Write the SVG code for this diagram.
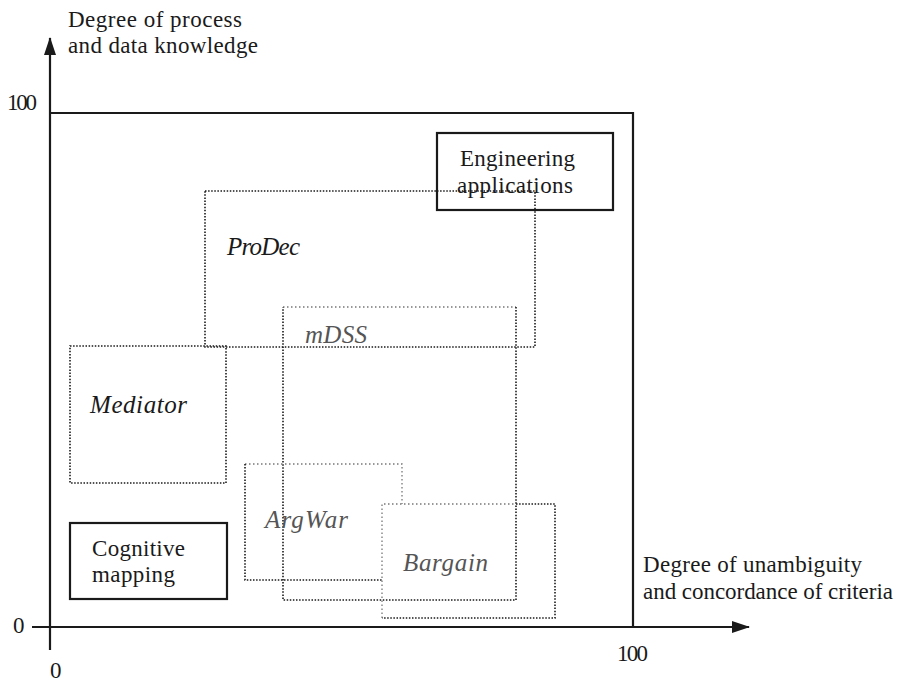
<svg xmlns="http://www.w3.org/2000/svg" width="913" height="683" viewBox="0 0 913 683" font-family="'Liberation Serif', 'DejaVu Serif', serif">
<style>
text{font-family:"Liberation Serif","DejaVu Serif",serif;fill:#1a1a1a;font-size:23px}
.it{font-style:italic;font-size:25px}
.faint{fill:#555}
.axis{stroke:#1a1a1a;stroke-width:2.2;fill:none}
.solid{stroke:#1a1a1a;stroke-width:2.2;fill:none}
.dot{stroke:#1a1a1a;stroke-width:1.6;fill:none;stroke-dasharray:1.5 1.6}
.dotl{stroke:#777;stroke-width:1.3;fill:none;stroke-dasharray:1.5 2.5}
</style>
<defs>
<marker id="arr" viewBox="0 0 18 12" refX="17" refY="6" markerWidth="18" markerHeight="12" markerUnits="userSpaceOnUse" orient="auto">
<path d="M0,0 L18,6 L0,12 Z" fill="#1a1a1a"/>
</marker>
</defs>
<rect width="913" height="683" fill="#fff"/>

<g id="connectors">
<line class="axis" x1="50" y1="650" x2="50" y2="38" marker-end="url(#arr)"/>
<line class="axis" x1="32" y1="627" x2="749" y2="627" marker-end="url(#arr)"/>
<polyline class="axis" points="50,113 633,113 633,627"/>
</g>

<g id="axis-labels">
<text x="68" y="27" textLength="174">Degree of process</text>
<text x="68" y="53" textLength="190">and data knowledge</text>
<text x="7" y="110" textLength="30">100</text>
<text x="13" y="633">0</text>
<text x="50" y="678">0</text>
<text x="617" y="661" textLength="31">100</text>
<text x="643" y="572" textLength="219">Degree of unambiguity</text>
<text x="643" y="599" textLength="250">and concordance of criteria</text>
</g>

<g id="prodec">
<rect class="dot" x="205" y="191" width="330" height="156"/>
<text class="it" x="227" y="255" textLength="73">ProDec</text>
</g>

<g id="mdss">
<path class="dotl" d="M283,307 H516"/>
<path class="dot" d="M516,307 V600 H283 V307"/>
<text class="it faint" x="305" y="343" textLength="62">mDSS</text>
</g>

<g id="mediator">
<rect class="dot" x="70" y="346" width="156" height="137"/>
<text class="it" x="90" y="413" textLength="97">Mediator</text>
</g>

<g id="argwar">
<path class="dotl" d="M245,464 H402 V504"/>
<path class="dot" d="M245,464 V580 H382"/>
<text class="it faint" x="265" y="528" textLength="83">ArgWar</text>
</g>

<g id="bargain">
<path class="dotl" d="M382,618 V504 H516"/>
<path class="dot" d="M516,504 H555 V618 H382"/>
<text class="it faint" x="403" y="571" textLength="85">Bargain</text>
</g>

<g id="engineering">
<rect x="437" y="133" width="176" height="77" fill="#fff" stroke="none"/>
<path class="dot" d="M437,191 H535 V210"/>
<rect class="solid" x="437" y="133" width="176" height="77"/>
<text x="460" y="166" textLength="115">Engineering</text>
<text x="457" y="193" textLength="116">applications</text>
</g>

<g id="cognitive">
<rect class="solid" x="70" y="523" width="157" height="76"/>
<text x="92" y="556" textLength="93">Cognitive</text>
<text x="92" y="582" textLength="83">mapping</text>
</g>
</svg>
